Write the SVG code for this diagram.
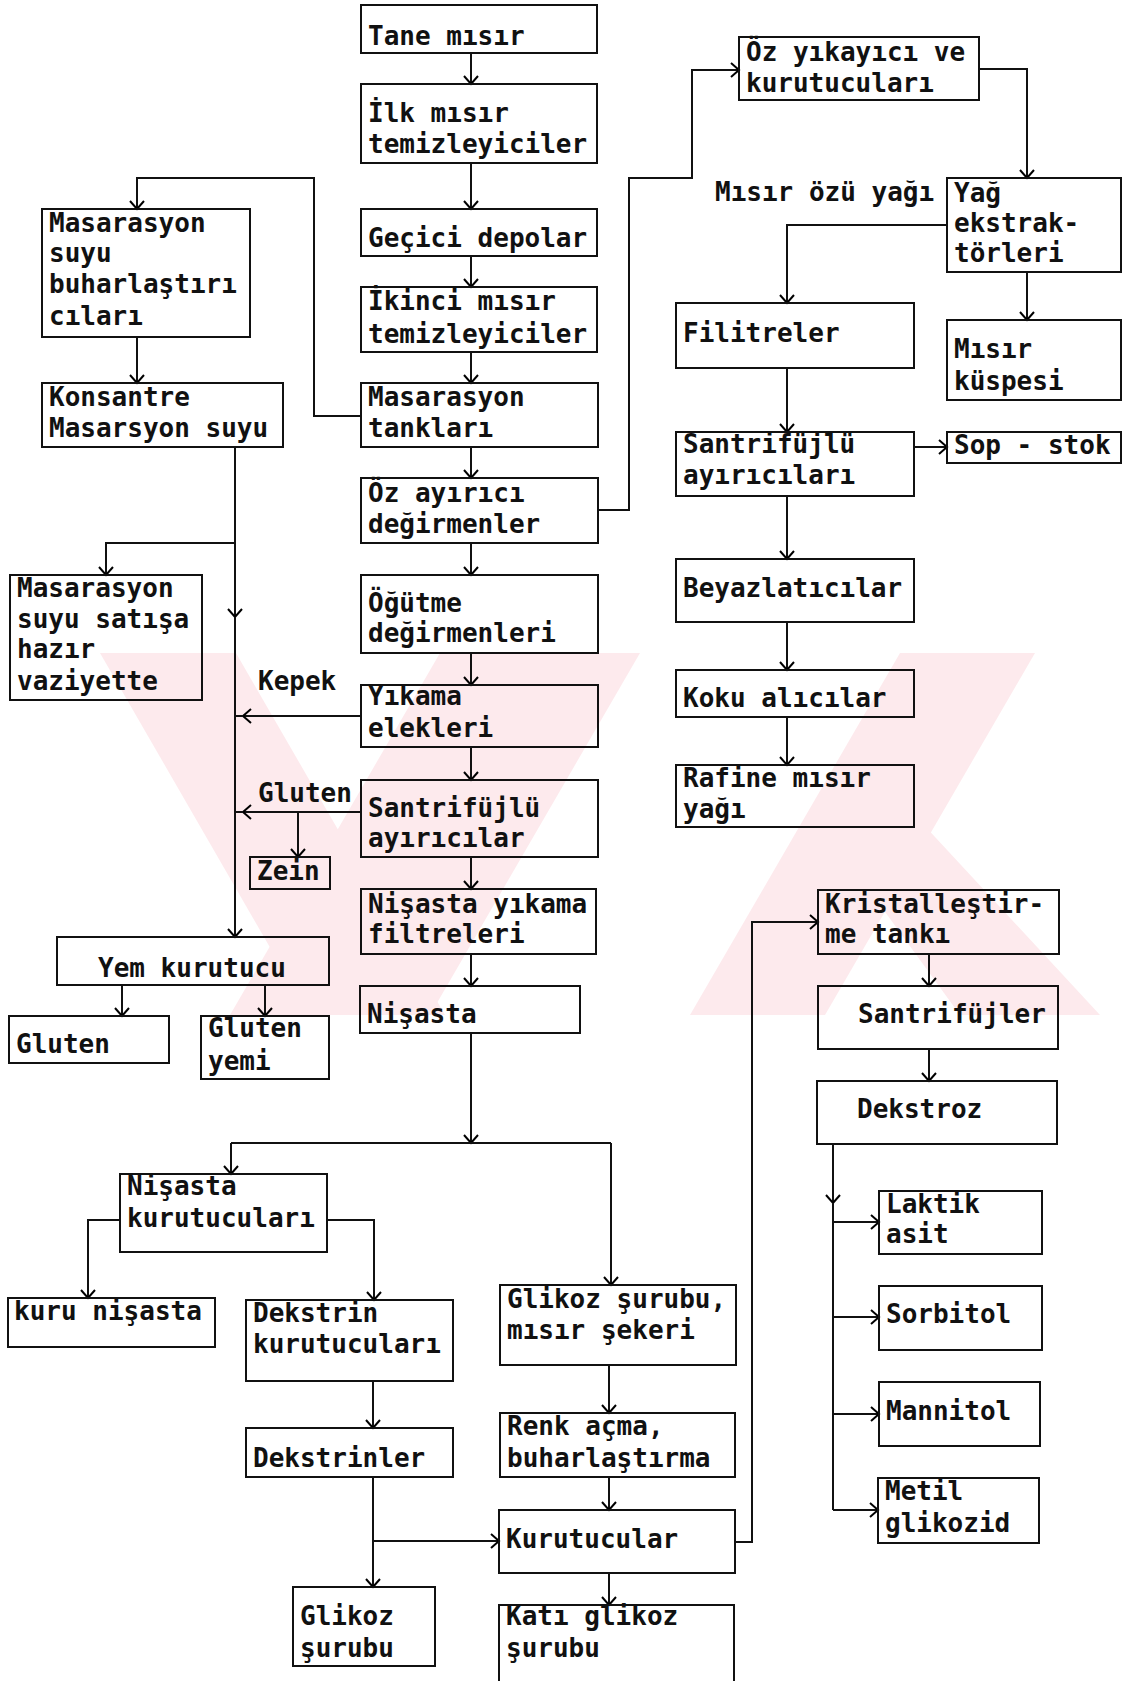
<svg xmlns="http://www.w3.org/2000/svg" width="1123" height="1681" viewBox="0 0 1123 1681">
<defs>
<marker id="ah" markerUnits="userSpaceOnUse" markerWidth="20" markerHeight="20" refX="10" refY="10" orient="auto" viewBox="0 0 20 20">
<path d="M2,3 L10,10 L2,17" fill="none" stroke="#000" stroke-width="2"/>
</marker>
<style>
text{font-family:"DejaVu Sans Mono","Liberation Mono",monospace;font-size:26px;font-weight:bold;fill:#111}
.b rect{fill:none;stroke:#111;stroke-width:2}
.c path{fill:none;stroke:#111;stroke-width:2}
.c path.a{marker-end:url(#ah)}
.wm{fill:#fdeaed}
</style>
</defs>
<rect width="1123" height="1681" fill="#fff"/>
<g id="watermark">
<polygon class="wm" points="100,653 236,653 445,1015 309,1015"/>
<polygon class="wm" points="440,653 640,653 430,1015 230,1015"/>
<polygon class="wm" points="900,653 1035,653 825,1015 690,1015"/>
<polygon class="wm" points="840,850 910,810 1100,1015 960,1015"/>
</g>
<g class="c" id="connectors">
<path class="a" d="M471,53 V84"/>
<path class="a" d="M471,163 V209"/>
<path class="a" d="M471,256 V287"/>
<path class="a" d="M471,352 V383"/>
<path class="a" d="M471,447 V478"/>
<path class="a" d="M471,543 V575"/>
<path class="a" d="M471,653 V685"/>
<path class="a" d="M471,747 V780"/>
<path class="a" d="M471,857 V889"/>
<path class="a" d="M471,954 V986"/>
<path class="a" d="M471,1033 V1143"/>
<path class="a" d="M361,416 H314 V178 H137 V209"/>
<path class="a" d="M137,337 V383"/>
<path class="a" d="M235,447 V617"/>
<path class="a" d="M235,617 V937"/>
<path class="a" d="M235,543 H106 V575"/>
<path class="a" d="M361,716 H243"/>
<path d="M243,716 H235"/>
<path class="a" d="M361,812 H243"/>
<path d="M243,812 H235"/>
<path class="a" d="M298,812 V857"/>
<path class="a" d="M122,985 V1016"/>
<path class="a" d="M265,985 V1016"/>
<path class="a" d="M598,510 H629 V178 H692 V70 H739"/>
<path class="a" d="M979,69 H1027 V178"/>
<path class="a" d="M947,225 H787 V303"/>
<path class="a" d="M1027,272 V320"/>
<path class="a" d="M787,368 V432"/>
<path class="a" d="M914,447 H947"/>
<path class="a" d="M787,496 V559"/>
<path class="a" d="M787,622 V670"/>
<path class="a" d="M787,717 V765"/>
<path d="M231,1143 H611"/>
<path class="a" d="M231,1143 V1174"/>
<path class="a" d="M611,1143 V1285"/>
<path class="a" d="M120,1220 H88 V1298"/>
<path class="a" d="M327,1220 H374 V1300"/>
<path class="a" d="M373,1381 V1428"/>
<path class="a" d="M373,1477 V1587"/>
<path class="a" d="M373,1541 H499"/>
<path class="a" d="M609,1365 V1413"/>
<path class="a" d="M609,1477 V1510"/>
<path class="a" d="M609,1573 V1605"/>
<path class="a" d="M735,1542 H752 V922 H818"/>
<path class="a" d="M929,954 V986"/>
<path class="a" d="M929,1049 V1081"/>
<path class="a" d="M833,1144 V1203"/>
<path d="M833,1203 V1510"/>
<path class="a" d="M833,1222 H879"/>
<path class="a" d="M833,1317 H879"/>
<path class="a" d="M833,1414 H879"/>
<path class="a" d="M833,1510 H878"/>
</g>
<g class="b">
<g id="n-tane"><rect x="361" y="5" width="236" height="48"/><text x="368" y="45">Tane mısır</text></g>
<g id="n-ilk"><rect x="361" y="84" width="236" height="79"/><text x="368" y="122">İlk mısır</text><text x="368" y="153">temizleyiciler</text></g>
<g id="n-gecici"><rect x="361" y="209" width="236" height="47"/><text x="368" y="247">Geçici depolar</text></g>
<g id="n-ikinci"><rect x="361" y="287" width="236" height="65"/><text x="368" y="310">İkinci mısır</text><text x="368" y="343">temizleyiciler</text></g>
<g id="n-mastank"><rect x="361" y="383" width="237" height="64"/><text x="368" y="406">Masarasyon</text><text x="368" y="437">tankları</text></g>
<g id="n-ozayirici"><rect x="361" y="478" width="237" height="65"/><text x="368" y="502">Öz ayırıcı</text><text x="368" y="533">değirmenler</text></g>
<g id="n-ogutme"><rect x="361" y="575" width="237" height="78"/><text x="368" y="612">Öğütme</text><text x="368" y="642">değirmenleri</text></g>
<g id="n-yikama"><rect x="361" y="685" width="237" height="62"/><text x="368" y="705">Yıkama</text><text x="368" y="737">elekleri</text></g>
<g id="n-santa"><rect x="361" y="780" width="237" height="77"/><text x="368" y="817">Santrifüjlü</text><text x="368" y="847">ayırıcılar</text></g>
<g id="n-nisyik"><rect x="361" y="889" width="235" height="65"/><text x="368" y="913">Nişasta yıkama</text><text x="368" y="943">filtreleri</text></g>
<g id="n-nisasta"><rect x="360" y="986" width="220" height="47"/><text x="367" y="1023">Nişasta</text></g>
<g id="n-masbuh"><rect x="42" y="209" width="208" height="128"/><text x="49" y="232">Masarasyon</text><text x="49" y="262">suyu</text><text x="49" y="293">buharlaştırı</text><text x="49" y="325">cıları</text></g>
<g id="n-konsantre"><rect x="42" y="383" width="241" height="64"/><text x="49" y="406">Konsantre</text><text x="49" y="437">Masarsyon suyu</text></g>
<g id="n-massatis"><rect x="10" y="575" width="192" height="125"/><text x="17" y="597">Masarasyon</text><text x="17" y="628">suyu satışa</text><text x="17" y="658">hazır</text><text x="17" y="690">vaziyette</text></g>
<g id="l-kepek"><text x="258" y="690">Kepek</text></g>
<g id="l-gluten"><text x="258" y="802">Gluten</text></g>
<g id="n-zein"><rect x="250" y="857" width="80" height="32"/><text x="257" y="880">Zein</text></g>
<g id="n-yem"><rect x="57" y="937" width="272" height="48"/><text x="98" y="977">Yem kurutucu</text></g>
<g id="n-gluten"><rect x="9" y="1016" width="160" height="47"/><text x="16" y="1053">Gluten</text></g>
<g id="n-glutenyemi"><rect x="201" y="1016" width="128" height="63"/><text x="208" y="1037">Gluten</text><text x="208" y="1070">yemi</text></g>
<g id="n-niskur"><rect x="120" y="1174" width="207" height="78"/><text x="127" y="1195">Nişasta</text><text x="127" y="1227">kurutucuları</text></g>
<g id="n-kurunis"><rect x="8" y="1298" width="207" height="49"/><text x="14" y="1320">kuru nişasta</text></g>
<g id="n-dekkur"><rect x="246" y="1300" width="207" height="81"/><text x="253" y="1322">Dekstrin</text><text x="253" y="1353">kurutucuları</text></g>
<g id="n-dekstrinler"><rect x="246" y="1428" width="207" height="49"/><text x="253" y="1467">Dekstrinler</text></g>
<g id="n-glikozsur"><rect x="293" y="1587" width="142" height="79"/><text x="300" y="1625">Glikoz</text><text x="300" y="1657">şurubu</text></g>
<g id="n-glikozmisir"><rect x="500" y="1285" width="236" height="80"/><text x="507" y="1308">Glikoz şurubu,</text><text x="507" y="1339">mısır şekeri</text></g>
<g id="n-renk"><rect x="500" y="1413" width="235" height="64"/><text x="507" y="1435">Renk açma,</text><text x="507" y="1467">buharlaştırma</text></g>
<g id="n-kurutucular"><rect x="499" y="1510" width="236" height="63"/><text x="506" y="1548">Kurutucular</text></g>
<g id="n-kati"><rect x="499" y="1605" width="235" height="82"/><text x="506" y="1625">Katı glikoz</text><text x="506" y="1657">şurubu</text></g>
<g id="n-ozyik"><rect x="739" y="37" width="240" height="63"/><text x="746" y="61">Öz yıkayıcı ve</text><text x="746" y="92">kurutucuları</text></g>
<g id="l-misiroz"><text x="715" y="201">Mısır özü yağı</text></g>
<g id="n-yag"><rect x="947" y="178" width="174" height="94"/><text x="954" y="202">Yağ</text><text x="954" y="232">ekstrak-</text><text x="954" y="262">törleri</text></g>
<g id="n-filitre"><rect x="676" y="303" width="238" height="65"/><text x="683" y="342">Filitreler</text></g>
<g id="n-kuspe"><rect x="947" y="320" width="174" height="80"/><text x="954" y="358">Mısır</text><text x="954" y="390">küspesi</text></g>
<g id="n-santay"><rect x="676" y="432" width="238" height="64"/><text x="683" y="453">Santrifüjlü</text><text x="683" y="484">ayırıcıları</text></g>
<g id="n-sop"><rect x="947" y="432" width="174" height="31"/><text x="954" y="454">Sop - stok</text></g>
<g id="n-beyaz"><rect x="676" y="559" width="238" height="63"/><text x="683" y="597">Beyazlatıcılar</text></g>
<g id="n-koku"><rect x="676" y="670" width="238" height="47"/><text x="683" y="707">Koku alıcılar</text></g>
<g id="n-rafine"><rect x="676" y="765" width="238" height="62"/><text x="683" y="787">Rafine mısır</text><text x="683" y="818">yağı</text></g>
<g id="n-kristal"><rect x="818" y="890" width="241" height="64"/><text x="825" y="913">Kristalleştir-</text><text x="825" y="943">me tankı</text></g>
<g id="n-santrifujler"><rect x="818" y="986" width="240" height="63"/><text x="858" y="1023">Santrifüjler</text></g>
<g id="n-dekstroz"><rect x="817" y="1081" width="240" height="63"/><text x="857" y="1118">Dekstroz</text></g>
<g id="n-laktik"><rect x="879" y="1191" width="163" height="63"/><text x="886" y="1213">Laktik</text><text x="886" y="1243">asit</text></g>
<g id="n-sorbitol"><rect x="879" y="1286" width="163" height="64"/><text x="886" y="1323">Sorbitol</text></g>
<g id="n-mannitol"><rect x="879" y="1382" width="161" height="64"/><text x="886" y="1420">Mannitol</text></g>
<g id="n-metil"><rect x="878" y="1478" width="161" height="65"/><text x="885" y="1500">Metil</text><text x="885" y="1532">glikozid</text></g>
</g>
</svg>
